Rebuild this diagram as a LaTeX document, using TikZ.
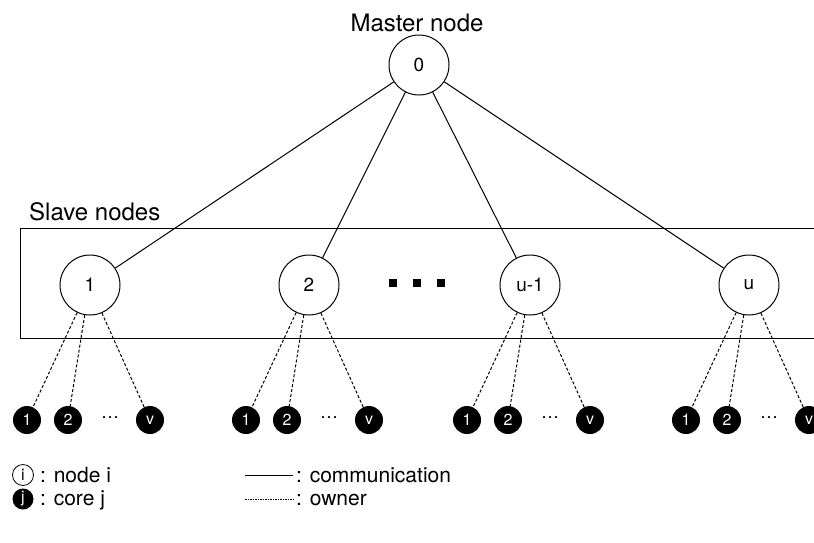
\documentclass[tikz,border=0pt]{standalone}
\usepackage{fontspec}
\setmainfont{TeX Gyre Heros}
\begin{document}
\begin{tikzpicture}[x=1pt,y=-1pt,
 slave/.style={circle,draw,line width=1pt,minimum size=60pt,inner sep=0pt,font=\fontsize{19}{21}\selectfont},
 core/.style={circle,fill=black,minimum size=28pt,inner sep=0pt,text=white,font=\fontsize{16}{18}\selectfont},
 comm/.style={line width=1pt},
 own/.style={line width=1pt,dash pattern=on 3pt off 2pt},
 lbl/.style={font=\fontsize{24}{26}\selectfont,inner sep=0pt},
 leg/.style={font=\fontsize{21}{22}\selectfont,anchor=west,inner sep=0pt},
 dotsq/.style={fill=black,minimum size=8pt,inner sep=0pt}]
\useasboundingbox (0,0) rectangle (814,542);
\clip (0,0) rectangle (814,542);
% slave box
\draw[line width=1pt] (830,228) -- (20,228) -- (20,338) -- (830,338);
\node[lbl] (mlabel) at (417,23) {Master node};
\node[lbl,anchor=west] (slabel) at (29,212) {Slave nodes};
\node[slave] (m) at (419,65) {0};
\node[slave] (s1) at (90,285) {1};
\node[slave] (s2) at (309,285) {2};
\node[slave] (s3) at (530,285) {u-1};
\node[slave] (s4) at (749,285) {u};
\foreach \i in {1,...,4} \draw[comm] (m) -- (s\i);
\node[dotsq] (d1) at (393,283) {};
\node[dotsq] (d2) at (417,283) {};
\node[dotsq] (d3) at (441,283) {};
\foreach \c [count=\i] in {90,309,530,749} {
  \node[core] (c\i a) at (\c-63,420) {1};
  \node[core] (c\i b) at (\c-22,420) {2};
  \node[font=\fontsize{18}{20}\selectfont,inner sep=0pt] (c\i d) at (\c+20,418) {…};
  \node[core] (c\i v) at (\c+60,420) {v};
  \draw[own] (s\i.-115) -- (c\i a);
  \draw[own] (s\i.-100) -- (c\i b);
  \draw[own] (s\i.-67) -- (c\i v);
}
% legend
\node[circle,draw,line width=0.8pt,minimum size=21pt,inner sep=0pt,font=\fontsize{16}{17}\selectfont] (li) at (23,475) {i};
\node[leg] (lit) at (40,475) {: node i};
\node[circle,fill=black,minimum size=21pt,inner sep=0pt,text=white,font=\fontsize{16}{17}\selectfont] (lj) at (23,499) {j};
\node[leg] (ljt) at (40,500) {: core j};
\coordinate (a1) at (245,475);
\coordinate (a2) at (293,475);
\draw[comm] (a1) -- (a2);
\node[leg] (lct) at (296,475) {: communication};
\coordinate (b1) at (245,499);
\coordinate (b2) at (293,499);
\draw[line width=0.8pt,dash pattern=on 1.5pt off 1pt] (b1) -- (b2);
\node[leg] (lot) at (296,500) {: owner};
\end{tikzpicture}
\end{document}
